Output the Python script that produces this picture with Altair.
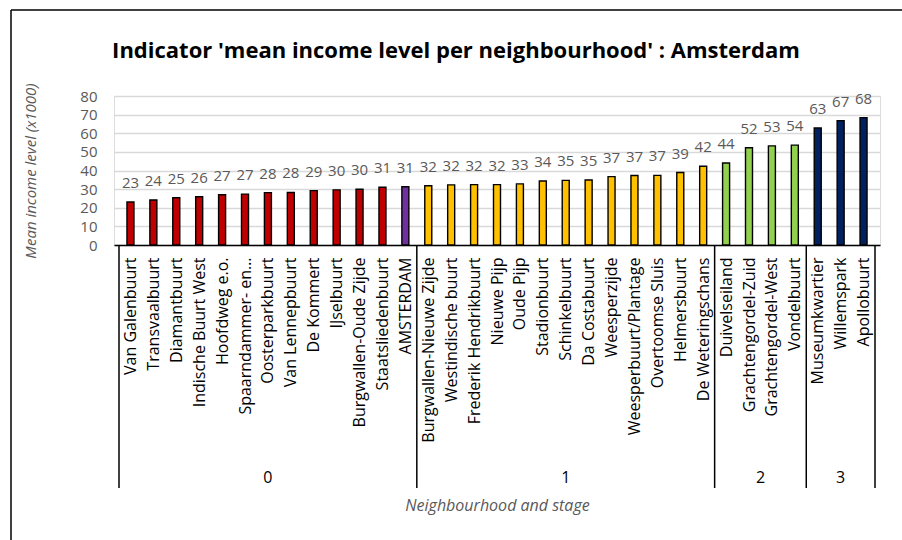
import json
import altair as alt
import pandas as pd

# ---- data ----
names = [
    "Van Galenbuurt", "Transvaalbuurt", "Diamantbuurt", "Indische Buurt West",
    "Hoofdweg e.o.", "Spaarndammer- en…", "Oosterparkbuurt", "Van Lennepbuurt",
    "De Kommert", "IJselbuurt", "Burgwallen-Oude Zijde", "Staatsliedenbuurt",
    "AMSTERDAM",
    "Burgwallen-Nieuwe Zijde", "Westindische buurt", "Frederik Hendrikbuurt",
    "Nieuwe Pijp", "Oude Pijp", "Stadionbuurt", "Schinkelbuurt", "Da Costabuurt",
    "Weesperzijde", "Weesperbuurt/Plantage", "Overtoomse Sluis", "Helmersbuurt",
    "De Weteringschans",
    "Duivelseiland", "Grachtengordel-Zuid", "Grachtengordel-West", "Vondelbuurt",
    "Museumkwartier", "Willemspark", "Apollobuurt",
]
values = [
    23.1, 24.2, 25.4, 25.9, 27.0, 27.3, 28.1, 28.2, 29.2, 29.6, 29.9, 31.0,
    31.3,
    31.8, 32.3, 32.4, 32.4, 32.8, 34.4, 34.7, 34.9, 36.7, 37.3, 37.4, 38.9,
    42.3,
    44.0, 52.2, 53.2, 53.6,
    62.8, 66.8, 68.4,
]
labels_txt = [
    "23", "24", "25", "26", "27", "27", "28", "28", "29", "30", "30", "31",
    "31",
    "32", "32", "32", "32", "33", "34", "35", "35", "37", "37", "37", "39",
    "42",
    "44", "52", "53", "54",
    "63", "67", "68",
]
stages = [0] * 13 + [1] * 13 + [2] * 4 + [3] * 3
kinds = ["stage 0"] * 12 + ["average"] + ["stage 1"] * 13 + ["stage 2"] * 4 + ["stage 3"] * 3
kind_domain = ["stage 0", "average", "stage 1", "stage 2", "stage 3"]
kind_colors = ["#C00000", "#7030A0", "#FFC000", "#92D050", "#002060"]

title_text = "Indicator 'mean income level per neighbourhood' : Amsterdam"
y_title = "Mean income level (x1000)"
x_title = "Neighbourhood and stage"
y_ticks = [0, 10, 20, 30, 40, 50, 60, 70, 80]

FONT = "Open Sans"
GRAY = "#595959"

df = pd.DataFrame({
    "idx": list(range(len(names))),
    "name": names,
    "value": values,
    "label": labels_txt,
    "kind": kinds,
    "stage": stages,
})

# stage group boundaries and centres derived from the stage list
grp = df.groupby("stage")["idx"].agg(["min", "max"]).reset_index()
grp["centre"] = (grp["min"] + grp["max"]) / 2
grp["text"] = grp["stage"].astype(str)
bounds = pd.DataFrame({"b": [m - 0.5 for m in grp["min"]] + [grp["max"].iloc[-1] + 0.5]})
title_df = pd.DataFrame({"t": [title_text]})

W, H = 766, 149
x_scale = alt.Scale(domain=[-0.5, len(names) - 0.5], nice=False, zero=False)
y_scale = alt.Scale(domain=[0, 80], nice=False)

label_expr = json.dumps(names) + "[datum.value]"

bars = alt.Chart(df).mark_bar(size=7, stroke="black", strokeWidth=1.4).encode(
    x=alt.X("idx:Q", scale=x_scale, axis=alt.Axis(
        values=list(range(len(names))), tickCount=len(names), labelExpr=label_expr,
        labelAngle=-90, labelAlign="right", labelBaseline="middle",
        labelPadding=12, labelFontSize=16, labelColor="black", labelFont=FONT,
        labelOverlap=False, labelFlush=False, labelBound=False, labelLimit=300,
        ticks=False, grid=False, domainColor="black", domainWidth=1.5,
        title=x_title, titleFont=FONT, titleFontSize=16, titleFontStyle="italic",
        titleFontWeight="normal", titleColor=GRAY, titleY=260, titleBaseline="middle",
    )),
    y=alt.Y("value:Q", scale=y_scale, axis=alt.Axis(
        values=y_ticks, tickCount=len(y_ticks), labelOverlap=False,
        domain=False, ticks=False,
        gridColor="#D9D9D9", gridWidth=1.4,
        labelFontSize=15, labelColor=GRAY, labelFont=FONT, labelPadding=17,
        title=y_title, titleFont=FONT, titleFontSize=15, titleFontStyle="italic",
        titleFontWeight="normal", titleColor=GRAY, titleX=-84, titleY=H / 2,
        titleAngle=-90, titleAlign="center", titleBaseline="middle",
    )),
    color=alt.Color("kind:N", scale=alt.Scale(domain=kind_domain, range=kind_colors), legend=None),
)

labels = alt.Chart(df).mark_text(
    font=FONT, fontSize=15, color=GRAY, baseline="alphabetic", dy=-14
).encode(x="idx:Q", y="value:Q", text="label:N")

seps = alt.Chart(bounds).mark_rule(color="black", strokeWidth=1.5).encode(
    x="b:Q", y=alt.value(H), y2=alt.value(H + 243)
)

stage_text = alt.Chart(grp).mark_text(
    font=FONT, fontSize=16, color="black", baseline="middle"
).encode(x="centre:Q", y=alt.value(H + 233), text="text:N")

title_mark = alt.Chart(title_df).mark_text(
    font=FONT, fontSize=22, fontWeight="bold", color="black",
    align="center", baseline="alphabetic"
).encode(x=alt.value(342), y=alt.value(-38), text="t:N")

frame_left = alt.Chart(title_df).mark_rule(color="black", strokeWidth=1.5).encode(
    x=alt.value(-103), y=alt.value(-86), y2=alt.value(460)
)
frame_top = alt.Chart(title_df).mark_rule(color="black", strokeWidth=1.5).encode(
    x=alt.value(-103), x2=alt.value(800), y=alt.value(-86)
)

chart = alt.layer(bars, labels, seps, stage_text, title_mark, frame_left, frame_top).properties(
    width=W, height=H,
    autosize=alt.AutoSizeParams(type="none"),
    padding={"left": 114, "top": 96, "right": 22, "bottom": 295},
).configure_view(stroke=None).configure(background="white")

chart.save("out.html", embed_options={"renderer": "svg", "actions": False})
